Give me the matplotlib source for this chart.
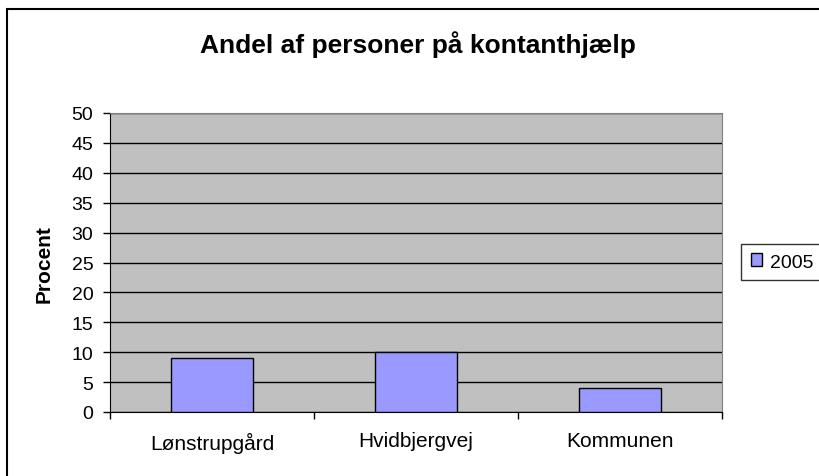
import matplotlib.pyplot as plt
from matplotlib.patches import Rectangle

categories = ["Lønstrupgård", "Hvidbjergvej", "Kommunen"]
values_2005 = [9.1, 10, 4]
series_label = "2005"

plt.rcParams['font.family'] = ['Liberation Sans', 'DejaVu Sans']

W, H = 819, 477
fig = plt.figure(figsize=(W / 100, H / 100), dpi=100)
fig.patch.set_facecolor("white")

# chart area frame (cut off on the right and bottom like the original)
fig.patches.append(Rectangle((7 / W, -0.05), 1.1, 1 - 10 / H + 0.05,
                             transform=fig.transFigure, fill=False,
                             edgecolor="black", linewidth=1.5))

ax = fig.add_axes([110 / W, 1 - 413 / H, (722 - 110) / W, (413 - 114) / H])
ax.set_facecolor("#C0C0C0")

x = list(range(len(categories)))
bars = ax.bar(x, values_2005, width=0.4, color="#9999FF", edgecolor="black",
              linewidth=1, label=series_label, zorder=3)

ax.set_xlim(-0.5, len(categories) - 0.5)
ax.set_ylim(0, 50)
ax.set_yticks(range(0, 51, 5))
ax.yaxis.grid(True, color="black", linewidth=1, zorder=1)
ax.set_axisbelow(True)

ax.set_xticks([i - 0.5 for i in range(len(categories) + 1)])
ax.set_xticklabels([])
ax.set_xticks(x, minor=True)
ax.set_xticklabels(categories, minor=True)
ax.tick_params(axis="x", which="minor", length=0, pad=14, labelsize=15)
ax.tick_params(axis="x", which="major", length=5, width=1, color="black")
ax.tick_params(axis="y", length=5, width=1, color="black", labelsize=14, pad=7)

for side in ["top", "right"]:
    ax.spines[side].set_color("#808080")
for side in ["left", "bottom"]:
    ax.spines[side].set_color("black")

fig.text(44 / W, 1 - 264 / H, "Procent", fontsize=15, fontweight="bold",
         rotation=90, ha="center", va="center")
fig.text(418 / W, 1 - 53 / H, "Andel af personer på kontanthjælp",
         fontsize=19, fontweight="bold", ha="center", va="baseline")

leg = fig.legend(handles=[bars], labels=[series_label], loc="center left",
                 bbox_to_anchor=(741 / W, 1 - 263 / H), fontsize=14,
                 frameon=True, fancybox=False, handlelength=0.6,
                 handleheight=0.6, handletextpad=0.4, borderpad=0.5,
                 borderaxespad=0)
leg.get_frame().set_edgecolor("black")
leg.get_frame().set_linewidth(1)

fig.savefig("out.png", dpi=100)
